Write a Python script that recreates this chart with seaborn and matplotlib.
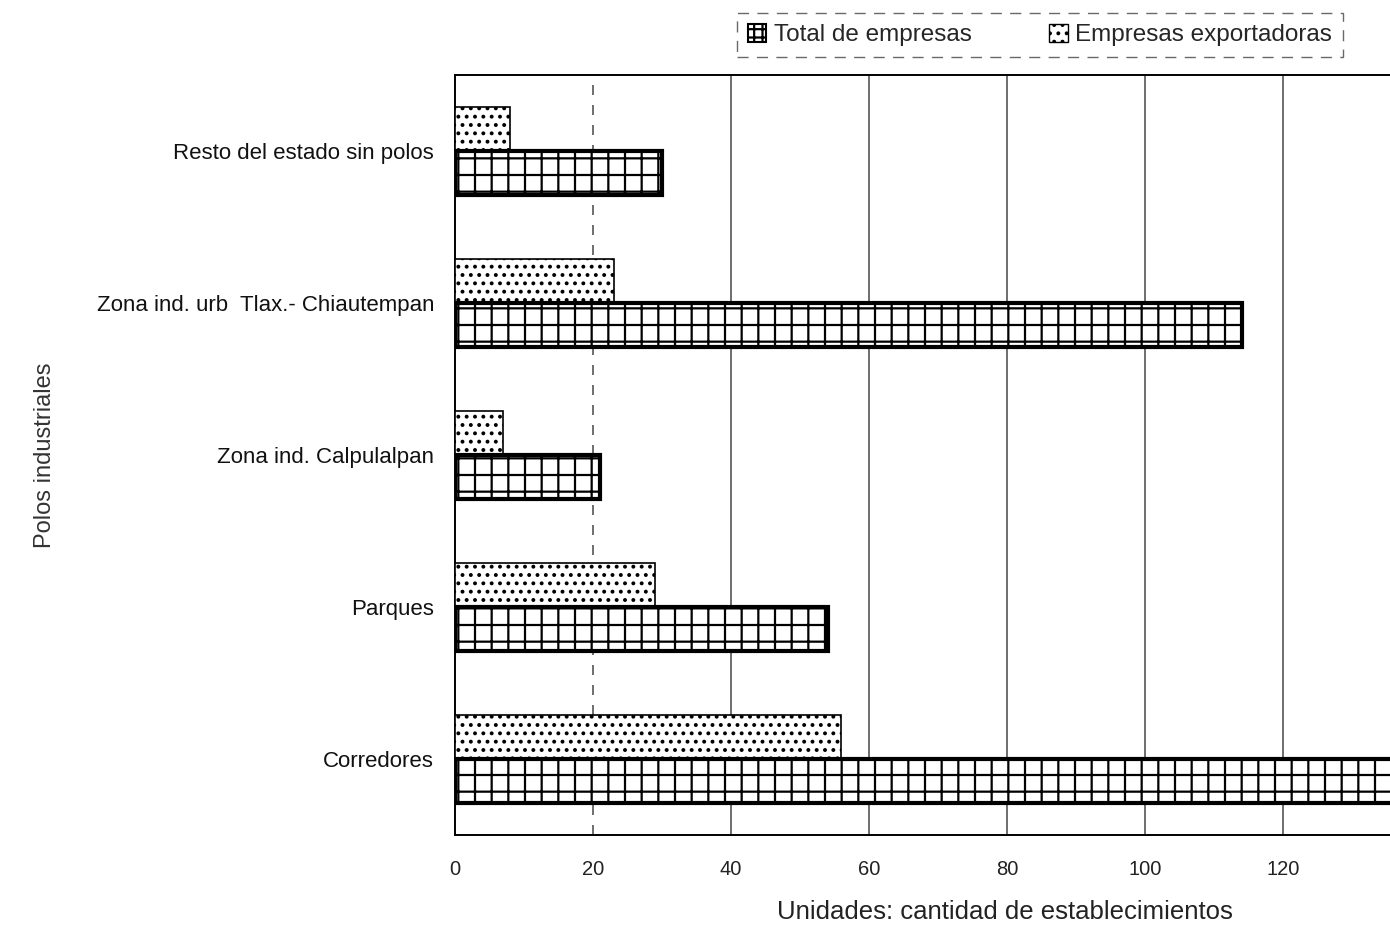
import matplotlib
matplotlib.use("Agg")
import matplotlib.pyplot as plt
from matplotlib.patches import Rectangle
import seaborn as sns
import pandas as pd

# data
polos = ["Resto del estado sin polos", "Zona ind. urb  Tlax.- Chiautempan",
         "Zona ind. Calpulalpan", "Parques", "Corredores"]
total_empresas = [30, 114, 21, 54, 140]
empresas_exportadoras = [8, 23, 7, 29, 56]
series = ["Empresas exportadoras", "Total de empresas"]
x_ticks = [0, 20, 40, 60, 80, 100, 120]

df = pd.DataFrame({
    "polo": polos * 2,
    "valor": empresas_exportadoras + total_empresas,
    "serie": [series[0]] * len(polos) + [series[1]] * len(polos),
})

sns.set_style("white")
plt.rcParams["font.family"] = ["Liberation Sans", "DejaVu Sans"]
plt.rcParams["hatch.linewidth"] = 1.6

fig = plt.figure(figsize=(13.9, 9.51), dpi=100)
ax = fig.add_axes([455 / 1390, 1 - 835 / 951, 1 - 455 / 1390, (835 - 75) / 951])

sns.barplot(data=df, y="polo", x="valor", hue="serie", hue_order=series,
            order=polos, orient="h", palette=["white", "white"], width=0.58,
            edgecolor="black", linewidth=1.2, legend=False, ax=ax, zorder=3)

hatches = {series[0]: "..", series[1]: "+"}
for cont, name in zip(ax.containers, series):
    for bar in cont:
        bar.set_hatch(hatches[name])
        if name == series[1]:
            bar.set_linewidth(3)

ax.set_xlim(0, 135.5)
ax.set_ylim(4.5, -0.5)
ax.set_xticks(x_ticks)
ax.tick_params(axis="x", labelsize=14.5, pad=18, length=0, colors="#222222")
ax.tick_params(axis="y", labelsize=16, pad=15, length=0, colors="#111111")

for t in x_ticks[2:]:
    ax.axvline(t, color="#555555", lw=1.2, zorder=1)
ax.axvline(20, color="#555555", lw=1.2, ls=(0, (6, 6)), zorder=1)

for side in ["left", "bottom", "top"]:
    ax.spines[side].set_color("black")
    ax.spines[side].set_linewidth(1.4)
ax.spines["right"].set_visible(False)

ax.set_ylabel("Polos industriales", fontsize=17, color="#333333")
ax.yaxis.set_label_coords(-0.427, 0.5)
ax.set_xlabel("Unidades: cantidad de establecimientos", fontsize=18.5, color="#222222")
ax.xaxis.set_label_coords(0.588, -0.085)

# legend box at the top, as in the original
handles = [Rectangle((0, 0), 1, 1, facecolor="white", edgecolor="black", hatch="++", lw=1.5),
           Rectangle((0, 0), 1, 1, facecolor="white", edgecolor="black", hatch="..", lw=1)]
leg = fig.legend(handles, ["Total de empresas", "Empresas exportadoras"],
                 loc="center", bbox_to_anchor=(1040 / 1390, 1 - 35 / 951), ncol=2,
                 fontsize=17.5, frameon=True, fancybox=False, handlelength=0.75,
                 handleheight=0.75, handletextpad=0.3, columnspacing=3.2,
                 borderpad=0.45)
leg.get_frame().set_edgecolor("#444444")
leg.get_frame().set_linestyle((0, (8, 6)))
leg.get_frame().set_linewidth(1)

fig.savefig("out.png", dpi=100)
